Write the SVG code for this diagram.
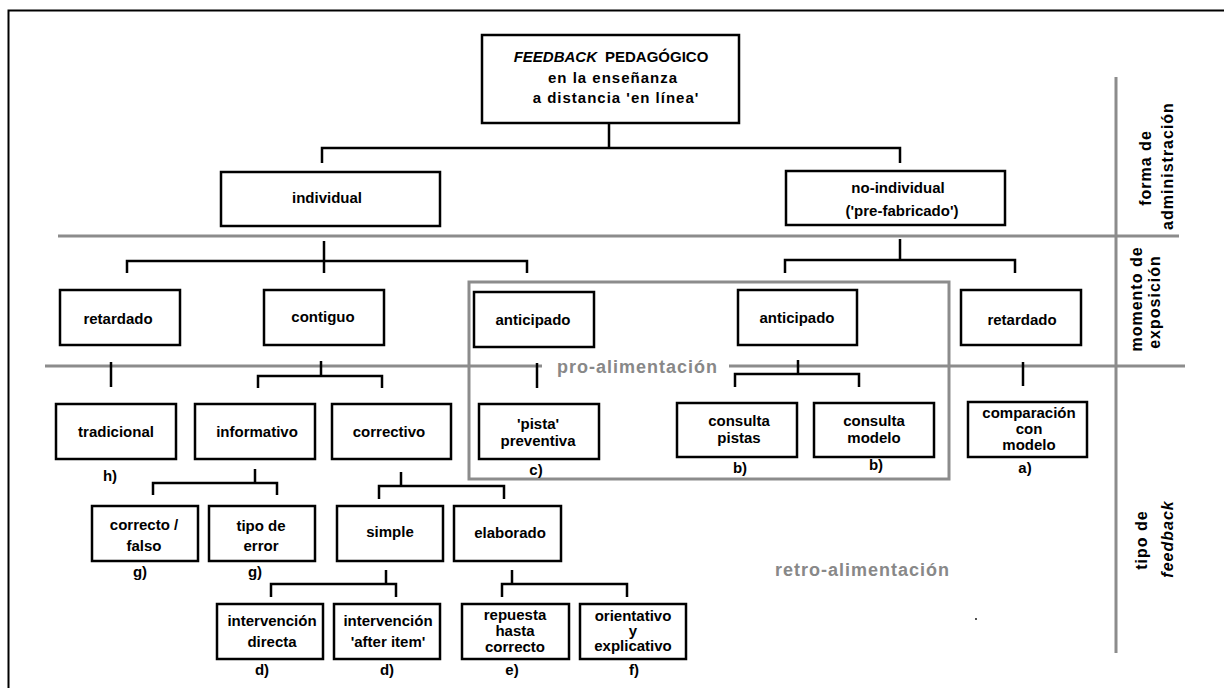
<svg xmlns="http://www.w3.org/2000/svg" width="1224" height="688" viewBox="0 0 1224 688">
<style>
.box{fill:#fff;stroke:#000;stroke-width:2.5}
.conn{fill:none;stroke:#000;stroke-width:2.5}
.gray{fill:none;stroke:#8c8c8c;stroke-width:3}
.t{font-family:"Liberation Sans",Arial,sans-serif;font-weight:bold;font-size:15px;text-anchor:middle;fill:#000}
.ti{font-family:"Liberation Sans",Arial,sans-serif;font-weight:bold;font-size:15px;text-anchor:middle;fill:#000;letter-spacing:1px}
.gt{font-family:"Liberation Sans",Arial,sans-serif;font-weight:bold;font-size:18px;letter-spacing:1px;fill:#888}
.lbl{font-family:"Liberation Sans",Arial,sans-serif;font-weight:bold;font-size:16px;letter-spacing:1px;text-anchor:middle;fill:#000}
</style>
<rect x="8.5" y="10.5" width="1240" height="700" fill="#fff" stroke="#000" stroke-width="2"/>

<g id="bands">
<path class="gray" d="M58,236 H1179"/>
<path class="gray" d="M45,366 H542 M729,366 H1185"/>
<path class="gray" d="M1116,77 V653"/>
<rect class="gray" x="469" y="282" width="480" height="197" stroke-width="2.5"/>
<text class="gt" x="557" y="373">pro-alimentación</text>
<text class="gt" x="775" y="576">retro-alimentación</text>
<circle cx="976" cy="619" r="0.9" fill="#000"/>
</g>

<g id="band-labels">
<text class="lbl" transform="translate(1151,168) rotate(-90)">forma de</text>
<text class="lbl" transform="translate(1173,166) rotate(-90)">administración</text>
<text class="lbl" transform="translate(1142,299) rotate(-90)">momento de</text>
<text class="lbl" transform="translate(1160,302) rotate(-90)">exposición</text>
<text class="lbl" transform="translate(1147,540) rotate(-90)">tipo de</text>
<text class="lbl" transform="translate(1173,539) rotate(-90)" font-style="italic">feedback</text>
</g>

<g id="connectors">
<path class="conn" d="M609,123 V148 M322,163 V148 H900 V163"/>
<path class="conn" d="M324,241 V261 M127,273 V261 H527 V273 M324,261 V273"/>
<path class="conn" d="M900,239 V260 M785,273 V260 H1015 V273"/>
<path class="conn" d="M111,362 V387"/>
<path class="conn" d="M321,361 V376 M258,388 V376 H382 V388"/>
<path class="conn" d="M537,363 V388"/>
<path class="conn" d="M798,360 V374 M735,387 V374 H859 V387"/>
<path class="conn" d="M1023,362 V386"/>
<path class="conn" d="M255,469 V483 M153,495 V483 H277 V495"/>
<path class="conn" d="M401,472 V486 M379,499 V486 H504 V499"/>
<path class="conn" d="M386,570 V584 M271,597 V584 H396 V597"/>
<path class="conn" d="M512,570 V584 M502,597 V584 H627 V597"/>
</g>

<g id="n-root">
<rect class="box" x="482" y="35" width="257" height="88" stroke-width="3"/>
<text class="t" x="611" y="62"><tspan font-style="italic">FEEDBACK</tspan><tspan dx="8">PEDAGÓGICO</tspan></text>
<text class="ti" x="613" y="83">en la enseñanza</text>
<text class="ti" x="616" y="103">a distancia 'en línea'</text>
</g>

<g id="n-individual">
<rect class="box" x="221" y="172" width="219" height="54"/>
<text class="t" x="327" y="203">individual</text>
</g>
<g id="n-noindividual">
<rect class="box" x="786" y="171" width="219" height="54"/>
<text class="t" x="898" y="193">no-individual</text>
<text class="t" x="902" y="216">('pre-fabricado')</text>
</g>

<g id="n-retardado1">
<rect class="box" x="60" y="290" width="120" height="55"/>
<text class="t" x="118" y="324">retardado</text>
</g>
<g id="n-contiguo">
<rect class="box" x="264" y="290" width="120" height="55"/>
<text class="t" x="323" y="322">contiguo</text>
</g>
<g id="n-anticipado1">
<rect class="box" x="474" y="292" width="120" height="55"/>
<text class="t" x="533" y="325">anticipado</text>
</g>
<g id="n-anticipado2">
<rect class="box" x="738" y="290" width="119" height="55"/>
<text class="t" x="797" y="323">anticipado</text>
</g>
<g id="n-retardado2">
<rect class="box" x="961" y="290" width="120" height="55"/>
<text class="t" x="1022" y="325">retardado</text>
</g>

<g id="n-tradicional">
<rect class="box" x="56" y="404" width="120" height="55"/>
<text class="t" x="116" y="437">tradicional</text>
<text class="t" x="110" y="481">h)</text>
</g>
<g id="n-informativo">
<rect class="box" x="195" y="404" width="120" height="55"/>
<text class="t" x="257" y="437">informativo</text>
</g>
<g id="n-correctivo">
<rect class="box" x="332" y="404" width="119" height="55"/>
<text class="t" x="389" y="437">correctivo</text>
</g>
<g id="n-pista">
<rect class="box" x="479" y="404" width="120" height="55"/>
<text class="t" x="538" y="429">'pista'</text>
<text class="t" x="538" y="446">preventiva</text>
<text class="t" x="536" y="475">c)</text>
</g>
<g id="n-consultapistas">
<rect class="box" x="677" y="403" width="120" height="54"/>
<text class="t" x="739" y="426">consulta</text>
<text class="t" x="739" y="443">pistas</text>
<text class="t" x="740" y="473">b)</text>
</g>
<g id="n-consultamodelo">
<rect class="box" x="814" y="403" width="120" height="54"/>
<text class="t" x="874" y="426">consulta</text>
<text class="t" x="874" y="443">modelo</text>
<text class="t" x="876" y="470">b)</text>
</g>
<g id="n-comparacion">
<rect class="box" x="968" y="402" width="119" height="55"/>
<text class="t" x="1029" y="418">comparación</text>
<text class="t" x="1029" y="434">con</text>
<text class="t" x="1029" y="450">modelo</text>
<text class="t" x="1025" y="473">a)</text>
</g>

<g id="n-correctofalso">
<rect class="box" x="92" y="506" width="106" height="55"/>
<text class="t" x="144" y="530">correcto /</text>
<text class="t" x="144" y="551">falso</text>
<text class="t" x="140" y="577">g)</text>
</g>
<g id="n-tipoerror">
<rect class="box" x="209" y="506" width="106" height="55"/>
<text class="t" x="261" y="531">tipo de</text>
<text class="t" x="261" y="551">error</text>
<text class="t" x="255" y="577">g)</text>
</g>
<g id="n-simple">
<rect class="box" x="337" y="506" width="106" height="55"/>
<text class="t" x="390" y="537">simple</text>
</g>
<g id="n-elaborado">
<rect class="box" x="454" y="506" width="107" height="55"/>
<text class="t" x="510" y="538">elaborado</text>
</g>

<g id="n-directa">
<rect class="box" x="217" y="604" width="106" height="55"/>
<text class="t" x="272" y="626">intervención</text>
<text class="t" x="272" y="647">directa</text>
<text class="t" x="262" y="675">d)</text>
</g>
<g id="n-afteritem">
<rect class="box" x="334" y="604" width="106" height="55"/>
<text class="t" x="388" y="626">intervención</text>
<text class="t" x="388" y="647">'after item'</text>
<text class="t" x="387" y="675">d)</text>
</g>
<g id="n-repuesta">
<rect class="box" x="462" y="604" width="107" height="55"/>
<text class="t" x="515" y="620">repuesta</text>
<text class="t" x="515" y="636">hasta</text>
<text class="t" x="515" y="652">correcto</text>
<text class="t" x="512" y="675">e)</text>
</g>
<g id="n-orientativo">
<rect class="box" x="580" y="604" width="106" height="55"/>
<text class="t" x="633" y="621">orientativo</text>
<text class="t" x="633" y="636">y</text>
<text class="t" x="633" y="651">explicativo</text>
<text class="t" x="634" y="675">f)</text>
</g>
</svg>
